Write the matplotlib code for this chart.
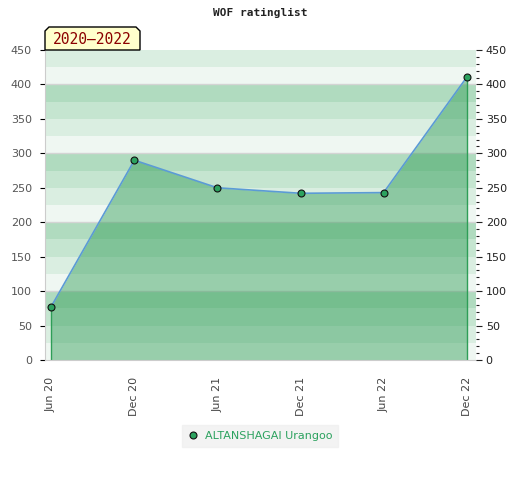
import matplotlib
matplotlib.use("Agg")
import matplotlib.pyplot as plt
import matplotlib.dates as mdates
from matplotlib.lines import Line2D
from matplotlib.patches import Polygon
from matplotlib.ticker import MultipleLocator
import pandas as pd

# ---- data ----
dates = ["2020-06-01", "2020-12-01", "2021-06-01", "2021-12-01", "2022-06-01", "2022-12-01"]
ratings = [77, 290, 250, 242, 243, 411]
tick_labels = ["Jun 20", "Dec 20", "Jun 21", "Dec 21", "Jun 22", "Dec 22"]
player = "ALTANSHAGAI Urangoo"
period = "2020–2022"
title = "WOF ratinglist"

x = pd.to_datetime(dates)
xn = mdates.date2num(x)

fig = plt.figure(figsize=(5.2, 4.8), dpi=100)
ax = fig.add_axes([45/520, 1-360/480, (476-45)/520, (360-50)/480])

ymax = 450
band_cols = ["#eff7f2", "#daeee1", "#c5e5d0", "#b0dbbf"]
for i, lo in enumerate(range(0, ymax, 25)):
    ax.axhspan(lo, lo+25, color=band_cols[i % 4], lw=0, zorder=0)
for g in range(100, ymax+1, 100):
    ax.axhline(g, color="#d4d4d4", lw=1, zorder=0.5)

ax.fill_between(xn, 0, ratings, color="#27984f", alpha=0.43, lw=0, zorder=1)
ax.vlines([xn[0], xn[-1]], 0, [ratings[0], ratings[-1]], color="#2e9e57", lw=1, zorder=2)
ax.plot(xn, ratings, color="#5b9bd5", lw=1.2, zorder=3)
ax.plot(xn, ratings, ls="none", marker="o", ms=5, mfc="#2ca25f", mec="#111111", mew=0.8, zorder=4)

span = xn[-1] - xn[0]
ax.set_xlim(xn[0] - span*6/416, xn[-1] + span*9/416)
ax.set_ylim(0, ymax)
ax.set_xticks(xn)
ax.set_xticklabels(tick_labels, rotation=90, fontsize=8, color="#444444")
ax.tick_params(axis="x", length=0, pad=12)

ax.yaxis.set_major_locator(MultipleLocator(50))
ax.tick_params(axis="y", left=False, labelleft=True, right=False, labelsize=8, labelcolor="#555555", pad=6)

for s in ["top", "right"]:
    ax.spines[s].set_visible(False)
ax.spines["left"].set_color("#cccccc")
ax.spines["bottom"].set_color("#cccccc")

ax2 = ax.twinx()
ax2.set_ylim(0, ymax)
ax2.yaxis.set_major_locator(MultipleLocator(50))
ax2.yaxis.set_minor_locator(MultipleLocator(10))
ax2.tick_params(axis="y", which="major", length=4, width=0.8, color="#222222", labelsize=8, labelcolor="#222222", pad=3)
ax2.tick_params(axis="y", which="minor", length=2, width=0.8, color="#222222")
for s in ["top", "right", "left", "bottom"]:
    ax2.spines[s].set_visible(False)

fig.text(0.5, 1-13/480, title, ha="center", va="center", fontsize=8, family="DejaVu Sans Mono", weight="bold", color="#222222")

# period label box
W, H = 520, 480
px = [(45, 50), (45, 31), (49, 27), (136, 27), (140, 31), (140, 50)]
poly = Polygon([(a/W, 1-b/H) for a, b in px], closed=True, transform=fig.transFigure,
               facecolor="#ffffcc", edgecolor="#000000", lw=1, zorder=5)
fig.patches.append(poly)
fig.text(92.5/W, 1-40/H, period, ha="center", va="center", fontsize=10.5,
         family="DejaVu Sans Mono", color="#8b0000", zorder=6)

handle = Line2D([], [], ls="none", marker="o", ms=5, mfc="#2ca25f", mec="#111111", mew=0.8)
leg = fig.legend([handle], [player], loc="center", bbox_to_anchor=(260/W, 1-436/H),
                 frameon=True, facecolor="#f0f0f0", edgecolor="#f0f0f0", fancybox=False,
                 fontsize=8, handlelength=1, handletextpad=0.6, borderpad=0.5)
for t in leg.get_texts():
    t.set_color("#2ca25f")

fig.savefig("out.png", dpi=100)
